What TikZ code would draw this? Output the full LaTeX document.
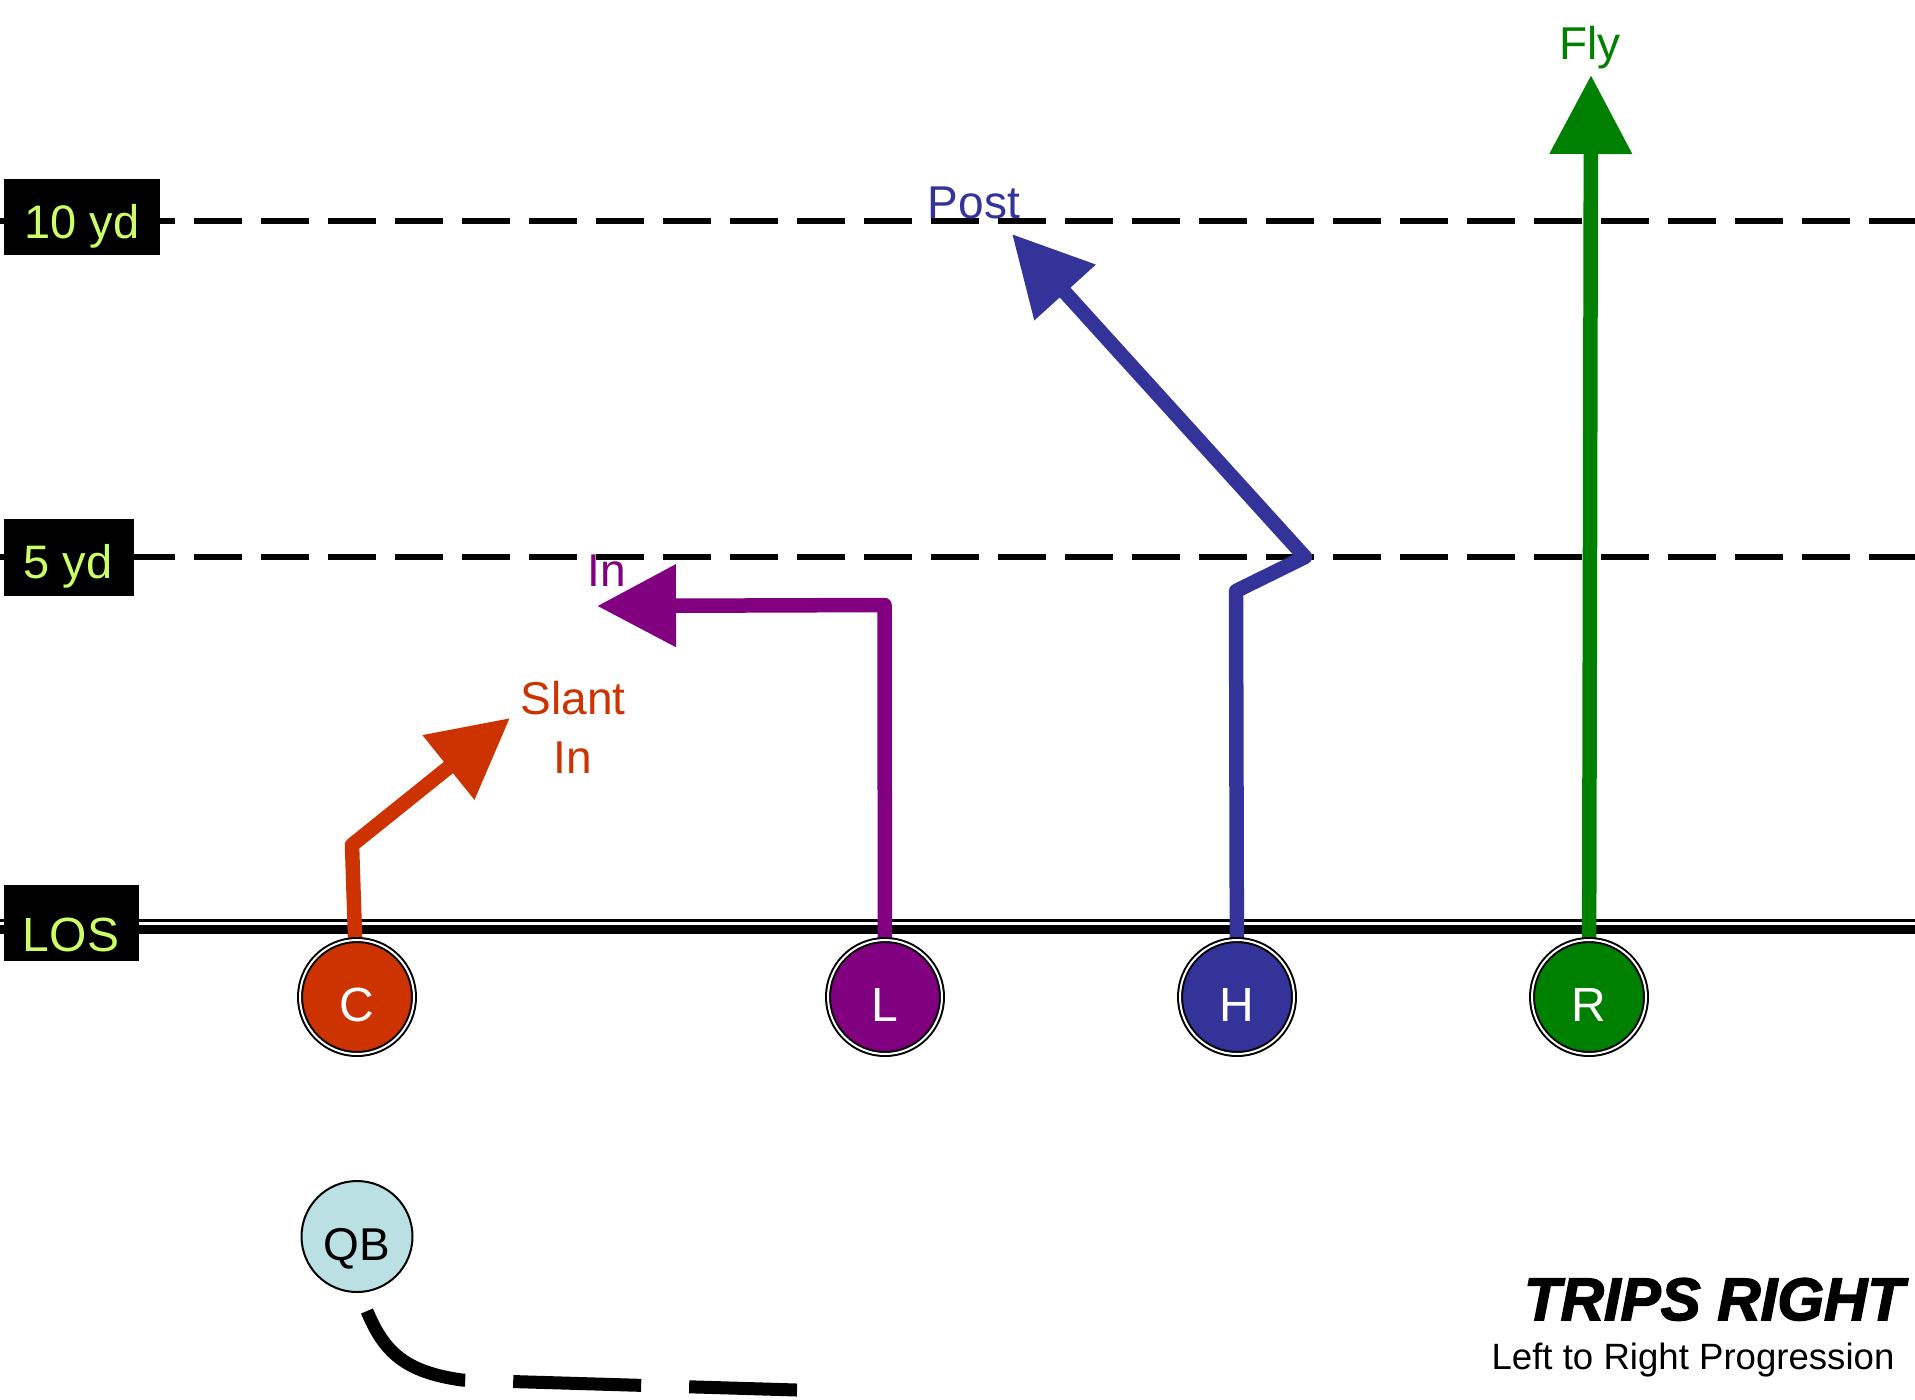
\documentclass[tikz,border=0pt]{standalone}
\usepackage{fontspec}
\setmainfont{Liberation Sans}
\newfontfamily\tripsfont[FakeBold=2.5]{Liberation Sans Bold Italic}
\usetikzlibrary{arrows.meta}
\pgfdeclarelayer{bg}
\pgfdeclarelayer{mid}
\pgfsetlayers{bg,mid,main}
\definecolor{corange}{HTML}{CC3300}
\definecolor{cpurple}{HTML}{800080}
\definecolor{cblue}{HTML}{333399}
\definecolor{cgreen}{HTML}{008000}
\definecolor{qbblue}{HTML}{BBE0E3}
\definecolor{ylw}{HTML}{CCFF66}
\begin{document}
\begin{tikzpicture}[x=0.5pt,y=-0.5pt,
  yardline/.style={line width=3.25pt, dash pattern=on 24pt off 9.5pt},
  yardbox/.style={fill=black, inner sep=0pt},
  yardtxt/.style={text=ylw, inner sep=0pt, anchor=base, font=\fontsize{23.5pt}{28pt}\selectfont},
  player/.style={circle, minimum size=57pt, inner sep=0pt, draw=black, line width=1pt, double=white, double distance=1pt, text=white, text height=24pt, text depth=0pt, font=\fontsize{24pt}{28pt}\selectfont},
  qbnode/.style={circle, minimum size=55.5pt, inner sep=0pt, draw=black, line width=1pt, fill=qbblue, text=black, text height=23.5pt, text depth=0pt, font=\fontsize{23pt}{28pt}\selectfont},
  route/.style={line width=7.25pt, line join=round, -{Triangle[length=39.5pt,width=39.5pt]}},
  rlabel/.style={inner sep=0pt, anchor=base, font=\fontsize{23pt}{29.5pt}\selectfont},
]
\useasboundingbox (0,0) rectangle (1915,1399);
\begin{pgfonlayer}{bg}
\fill[white] (0,0) rectangle (1915,1399);
\draw[yardline] (-7,221) -- (1925,221);
\draw[yardline] (-7,557) -- (1925,557);
\draw[line width=1.15pt] (0,920.5) -- (1915,920.5);
\draw[line width=4.5pt] (0,929.5) -- (1915,929.5);
\end{pgfonlayer}

% yard markers
\node[yardbox, minimum width=78pt, minimum height=38pt] (b10) at (82,217) {};
\node[yardtxt] (t10) at (82,238.5) {10 yd};
\node[yardbox, minimum width=65pt, minimum height=38.5pt] (b5) at (69,557.5) {};
\node[yardtxt] (t5) at (68,578.5) {5 yd};
\node[yardbox, minimum width=67.5pt, minimum height=38pt] (blos) at (71.5,923) {};
\node[yardtxt, font=\fontsize{24pt}{28pt}\selectfont] (tlos) at (71,951) {LOS};

% players
\node[player, fill=corange] (C) at (357,997) {C};
\node[player, fill=cpurple] (L) at (885,997) {L};
\node[player, fill=cblue] (H) at (1237,997) {H};
\node[player, fill=cgreen] (R) at (1589,997) {R};

% route points
\coordinate (cb) at (352,845);
\coordinate (ctip) at (510,718);
\coordinate (lb) at (884.5,605);
\coordinate (ltip) at (597,606);
\coordinate (hb1) at (1236,591);
\coordinate (hb2) at (1305,557);
\coordinate (htip) at (1012,234);
\coordinate (rtip) at (1591,75);

\begin{pgfonlayer}{mid}
\draw[route, corange] (C) -- (cb) -- (ctip);
\draw[route, cpurple] (L) -- (lb) -- (ltip);
\draw[route, cblue] (H) -- (hb1) -- (hb2) -- (htip);
\draw[route, cgreen] (R) -- (rtip);
\end{pgfonlayer}

% route labels
\node[rlabel, text=corange, align=center] (slant) at (573,773) {Slant\\In};
\node[rlabel, text=cpurple] (inlab) at (607,586) {In};
\node[rlabel, text=cblue] (post) at (974,218) {Post};
\node[rlabel, text=cgreen] (fly) at (1590,59) {Fly};

% quarterback
\node[qbnode] (QB) at (357,1236.5) {QB};
\coordinate (qs) at (367,1311);
\coordinate (qm) at (462,1380);
\coordinate (qe) at (797,1390);
\draw[line width=6.5pt, dash pattern=on 64pt off 24pt] (qs) .. controls (384,1352) and (405,1372) .. (qm) -- (qe);

% title
\node[inner sep=0pt, anchor=base, font=\tripsfont\fontsize{30pt}{35pt}\selectfont] (title) at (1714,1320) {TRIPS RIGHT};
\node[inner sep=0pt, anchor=base, font=\fontsize{18.3pt}{22pt}\selectfont] (sub) at (1693,1369) {Left to Right Progression};
\end{tikzpicture}
\end{document}
